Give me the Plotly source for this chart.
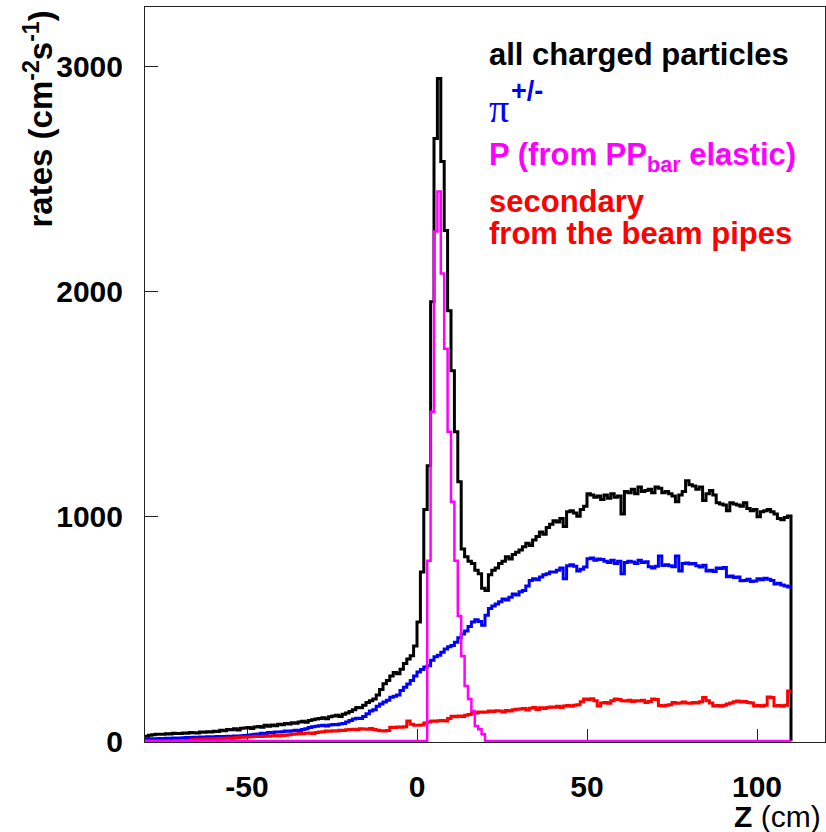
import plotly.graph_objects as go

# ---- data: histogram, 1 cm bins from -80 to 110 cm ----
Z_MIN = -80
BIN_WIDTH = 1

ALL_CHARGED = [
    22, 26, 28, 30, 31, 30, 33, 32, 35, 34,
    34, 36, 35, 38, 37, 36, 40, 39, 42, 41,
    44, 43, 48, 46, 52, 50, 55, 49, 57, 58,
    60, 56, 63, 65, 62, 70, 66, 72, 68, 75,
    73, 78, 76, 82, 79, 85, 88, 84, 92, 95,
    98, 100, 104, 99, 108, 112, 115, 110, 120, 125,
    132, 140, 150, 148, 160, 172, 180, 187, 205, 230,
    255, 270, 290, 305, 300, 320, 345, 365, 380, 423,
    530, 752, 1030, 1225, 1955, 2681, 2948, 2579, 2272, 1915,
    1648, 1376, 1154, 855, 820, 800, 790, 760, 745, 680,
    670, 740, 760, 770, 790, 800, 820, 810, 830, 840,
    850, 865, 880, 870, 895, 910, 930, 920, 950, 965,
    980, 975, 990, 955, 1020, 1025, 1015, 1000, 1030, 1045,
    1100, 1095, 1085, 1090, 1075, 1095, 1080, 1100, 1085, 1090,
    1010, 1110, 1105, 1120, 1100, 1130, 1110, 1115, 1120, 1105,
    1130, 1125, 1105, 1110, 1100, 1090, 1065, 1095, 1110, 1158,
    1140, 1135, 1120, 1130, 1070, 1100, 1115, 1095, 1060, 1055,
    1050, 1025, 1060, 1055, 1050, 1045, 1060, 1035, 1025, 1030,
    998, 1020, 1025, 1030, 1020, 1010, 990, 985, 995, 1002,
]

PIONS = [
    8, 10, 11, 10, 12, 11, 13, 12, 14, 13,
    14, 15, 16, 15, 17, 16, 18, 17, 19, 18,
    19, 20, 21, 20, 22, 21, 23, 22, 24, 25,
    26, 28, 30, 32, 35, 34, 38, 37, 40, 41,
    42, 45, 44, 46, 48, 47, 52, 55, 60, 64,
    66, 68, 70, 67, 72, 74, 73, 76, 78, 85,
    92, 98, 102, 100, 110, 122, 134, 140, 155, 165,
    174, 182, 195, 200, 205, 225, 240, 254, 270, 290,
    307, 318, 330, 335, 360, 375, 382, 395, 410, 420,
    425, 440, 460, 477, 490, 510, 530, 540, 532, 515,
    560, 590, 601, 610, 620, 632, 628, 640, 655, 650,
    664, 670, 690, 715, 722, 718, 730, 740, 745, 752,
    752, 760, 770, 722, 780, 785, 778, 757, 765, 775,
    811, 815, 805, 810, 808, 800, 795, 805, 790, 800,
    744, 795, 800, 797, 790, 805, 795, 798, 776, 770,
    778, 824, 781, 785, 780, 776, 824, 757, 790, 792,
    788, 790, 780, 775, 782, 757, 760, 755, 770, 768,
    772, 731, 735, 728, 730, 713, 715, 720, 710, 712,
    722, 718, 725, 720, 715, 699, 702, 695, 690, 686,
]

SECONDARY = [
    0, 0, 0, 0, 0, 0, 0, 0, 0, 0,
    0, 0, 3, 5, 6, 8, 7, 9, 10, 9,
    11, 12, 10, 13, 14, 12, 15, 16, 18, 17,
    18, 19, 22, 20, 21, 23, 22, 24, 25, 23,
    25, 26, 28, 30, 32, 34, 33, 35, 36, 34,
    38, 40, 42, 45, 44, 46, 45, 48, 47, 50,
    52, 53, 50, 55, 54, 53, 56, 52, 48, 46,
    45, 47, 62, 60, 63, 62, 64, 89, 75, 71,
    70, 72, 80, 85, 89, 88, 90, 92, 89, 100,
    111, 108, 112, 110, 115, 118, 129, 125, 130, 128,
    129, 134, 132, 135, 134, 130, 136, 134, 140, 142,
    143, 145, 138, 146, 150, 141, 148, 145, 150, 152,
    151, 155, 150, 156, 158, 155, 160, 162, 175, 187,
    185, 188, 180, 156, 170, 172, 168, 180, 187, 185,
    180, 178, 182, 176, 180, 178, 182, 172, 176, 187,
    185, 158, 156, 160, 162, 172, 168, 170, 174, 170,
    168, 172, 170, 175, 194, 180, 170, 156, 158, 155,
    160, 165, 170, 175, 178, 174, 176, 172, 170, 156,
    158, 155, 160, 196, 194, 156, 158, 155, 160, 223,
]

P_ELASTIC = [
    0, 0, 0, 0, 0, 0, 0, 0, 0, 0,
    0, 0, 0, 0, 0, 0, 0, 0, 0, 0,
    0, 0, 0, 0, 0, 0, 0, 0, 0, 0,
    0, 0, 0, 0, 0, 0, 0, 0, 0, 0,
    0, 0, 0, 0, 0, 0, 0, 0, 0, 0,
    0, 0, 0, 0, 0, 0, 0, 0, 0, 0,
    0, 0, 0, 0, 0, 0, 0, 0, 0, 0,
    0, 0, 0, 0, 0, 0, 0, 0, 0, 0,
    0, 0, 0, 802, 1465, 2267, 2445, 2080, 1746, 1376,
    1065, 802, 557, 379, 245, 187, 134, 67, 53, 31,
    0, 0, 0, 0, 0, 0, 0, 0, 0, 0,
    0, 0, 0, 0, 0, 0, 0, 0, 0, 0,
    0, 0, 0, 0, 0, 0, 0, 0, 0, 0,
    0, 0, 0, 0, 0, 0, 0, 0, 0, 0,
    0, 0, 0, 0, 0, 0, 0, 0, 0, 0,
    0, 0, 0, 0, 0, 0, 0, 0, 0, 0,
    0, 0, 0, 0, 0, 0, 0, 0, 0, 0,
    0, 0, 0, 0, 0, 0, 0, 0, 0, 0,
    0, 0, 0, 0, 0, 0, 0, 0, 0, 0,
]

X_TICKS = [-50, 0, 50, 100]
X_TICK_TEXT = ["<b>-50</b>", "<b>0</b>", "<b>50</b>", "<b>100</b>"]
Y_TICKS = [0, 1000, 2000, 3000]
Y_TICK_TEXT = ["<b>0</b>", "<b>1000</b>", "<b>2000</b>", "<b>3000</b>"]

LEG_ALL = "all charged particles"
LEG_PI = "\u03c0"
LEG_PI_SUP = "+/-"
LEG_P = "P (from PP<sub>bar</sub> elastic)"
LEG_SEC1 = "secondary"
LEG_SEC2 = "from the beam pipes"


def step_xy(vals, drop=False):
    n = len(vals)
    xs = [Z_MIN + i * BIN_WIDTH for i in range(n)] + [Z_MIN + n * BIN_WIDTH]
    ys = list(vals) + [vals[-1]]
    if drop:
        xs.append(Z_MIN + n * BIN_WIDTH)
        ys.append(0)
    return xs, ys


fig = go.Figure()
for vals, color, width, drop in [
    (ALL_CHARGED, "#000000", 3, True),
    (PIONS, "#0000ff", 3, False),
    (SECONDARY, "#ff0000", 3, False),
    (P_ELASTIC, "#ff00ff", 2.5, False),
]:
    xs, ys = step_xy(vals, drop)
    fig.add_trace(go.Scatter(x=xs, y=ys, mode="lines", line_shape="hv",
                             line=dict(color=color, width=width),
                             hoverinfo="skip"))

# plot area in pixels
L, R, T, B = 145, 825, 7, 742
W, H = 826, 832


def px_x(px):
    return (px - L) / (R - L)


def px_y(py):
    return (B - py) / (B - T)


FONT = "Liberation Sans, Arial, Helvetica, sans-serif"

fig.update_layout(
    width=W, height=H,
    margin=dict(l=L, r=W - R, t=T, b=H - B, pad=0),
    plot_bgcolor="white", paper_bgcolor="white",
    showlegend=False,
    font=dict(family=FONT, color="black"),
    xaxis=dict(range=[-80, 120], tickvals=X_TICKS, ticktext=X_TICK_TEXT,
               ticks="inside", ticklen=13,
               tickwidth=1, tickcolor="#222", showline=True, mirror=True,
               linecolor="#222", linewidth=1, showgrid=False, zeroline=False,
               tickfont=dict(size=30, family=FONT, color="black"),
               layer="below traces", ticklabelstandoff=18),
    yaxis=dict(range=[-4, 3266], tickvals=Y_TICKS, ticktext=Y_TICK_TEXT,
               ticks="inside", ticklen=13,
               tickwidth=1, tickcolor="#222", showline=True, mirror=True,
               linecolor="#222", linewidth=1, showgrid=False, zeroline=False,
               tickfont=dict(size=30, family=FONT, color="black"),
               layer="below traces", ticklabelstandoff=15),
)

ann = []
# axis titles
ann.append(dict(text="<b>rates (cm<sup>-2</sup>s<sup>-1</sup>)</b>", textangle=-90,
                x=px_x(39), y=px_y(9), xanchor="center", yanchor="top",
                font=dict(size=33, family=FONT, color="black")))
ann.append(dict(text="<b>Z</b> (cm)", x=px_x(823), y=px_y(816),
                xanchor="right", yanchor="middle",
                font=dict(size=30, family=FONT, color="black")))
# legend texts
LX = px_x(487)
ann.append(dict(text="<b>%s</b>" % LEG_ALL, x=LX, y=px_y(54), xanchor="left",
                yanchor="middle", font=dict(size=31, family=FONT, color="black")))
ann.append(dict(text=LEG_PI, x=LX, y=px_y(108), xanchor="left", yanchor="middle",
                font=dict(size=40, family="Liberation Serif, Times New Roman, serif",
                          color="#0000ff")))
ann.append(dict(text="<b>%s</b>" % LEG_PI_SUP, x=px_x(509), y=px_y(91),
                xanchor="left", yanchor="middle",
                font=dict(size=27, family=FONT, color="#0000ff")))
ann.append(dict(text="<b>%s</b>" % LEG_P, x=LX, y=px_y(157), xanchor="left",
                yanchor="middle", font=dict(size=31, family=FONT, color="#ff00ff")))
ann.append(dict(text="<b>%s</b>" % LEG_SEC1, x=LX, y=px_y(202), xanchor="left",
                yanchor="middle", font=dict(size=31, family=FONT, color="#ff0000")))
ann.append(dict(text="<b>%s</b>" % LEG_SEC2, x=LX, y=px_y(234), xanchor="left",
                yanchor="middle", font=dict(size=31, family=FONT, color="#ff0000")))

for a in ann:
    a.update(xref="paper", yref="paper", showarrow=False)
fig.update_layout(annotations=ann)

fig.write_html("out.html")
